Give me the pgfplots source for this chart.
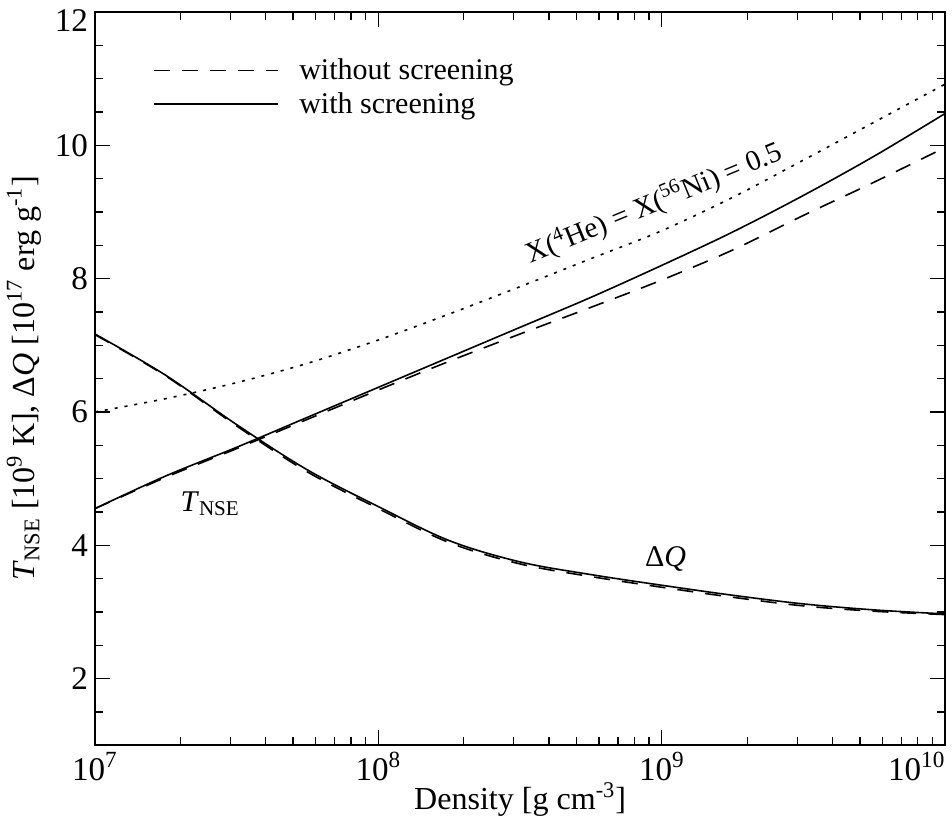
\documentclass[border=0pt]{standalone}
\usepackage{fontspec}
\setmainfont{Liberation Serif}
\usepackage{pgfplots}
\usepackage{pgfplotstable}
\pgfplotsset{compat=1.18}

% columns: density, T_NSE (screened / unscreened), Delta Q (screened / unscreened), X(He)=X(Ni)=0.5
\pgfplotstableread{
rho      T      Tns    Q      Qns    X
1e7      4.55   4.55   7.17   7.16   6.00
1.778e7  5.04   5.02   6.55   6.54   6.20
3.162e7  5.47   5.45   5.81   5.79   6.44
5.623e7  5.92   5.89   5.13   5.10   6.73
1e8      6.37   6.33   4.58   4.55   7.08
1.778e8  6.82   6.76   4.07   4.04   7.47
3.162e8  7.27   7.17   3.75   3.72   7.88
5.623e8  7.72   7.57   3.56   3.53   8.30
1e9      8.20   7.98   3.40   3.37   8.72
1.778e9  8.70   8.43   3.25   3.22   9.22
3.162e9  9.25   8.95   3.12   3.09   9.78
5.623e9  9.84   9.45   3.03   3.01   10.35
1e10     10.48  9.97   2.97   2.96   10.92
}\data

\begin{document}
\begin{tikzpicture}
\begin{axis}[
    scale only axis,
    width=424.5pt, height=366pt,
    xmode=log,
    xmin=1e7, xmax=1e10,
    ymin=1, ymax=12,
    xtick={1e7,1e8,1e9,1e10},
    xticklabels={10\textsuperscript{7},10\textsuperscript{8},10\textsuperscript{9},{\makebox[0pt][r]{10\textsuperscript{10}}}},
    minor xtick={2e7,3e7,4e7,5e7,6e7,7e7,8e7,9e7,2e8,3e8,4e8,5e8,6e8,7e8,8e8,9e8,2e9,3e9,4e9,5e9,6e9,7e9,8e9,9e9},
    ytick={2,4,...,10},
    extra y ticks={12},
    extra y tick style={yticklabel style={yshift=-4.5pt}},
    minor ytick={1.5,2,...,11.5},
    major tick length=7.5pt,
    minor tick length=4pt,
    tick style={black, line width=0.6pt},
    axis line style={line width=1pt},
    /pgf/number format/assume math mode=true,
    tick label style={font=\fontsize{16.5}{18}\selectfont},
    xlabel={Density [g cm\textsuperscript{-3}]},
    xlabel style={yshift=6pt},
    ylabel={\textit{T}\textsubscript{NSE} [10\textsuperscript{9} K], Δ\textit{Q} [10\textsuperscript{17} erg g\textsuperscript{-1}]},
    label style={font=\fontsize{16}{18}\selectfont},
    legend style={draw=none, fill=none, at={(0,1)}, anchor=north west,
        xshift=29pt, yshift=-21pt, inner sep=0pt, row sep=1pt, column sep=8pt,
        font=\fontsize{15}{17}\selectfont},
    legend image code/.code={\draw[#1] (0pt,0pt) -- (62pt,0pt);},
    legend cell align=left,
    every axis plot/.append style={smooth, tension=0.55},
]
\addplot[black, line width=0.8pt, dash pattern=on 8pt off 6pt] table[x=rho, y=Tns] {\data};
\addlegendentry{without screening}
\addplot[black, line width=0.8pt] table[x=rho, y=T] {\data};
\addlegendentry{with screening}
\addplot[black, line width=0.8pt, dash pattern=on 8pt off 6pt, forget plot] table[x=rho, y=Qns] {\data};
\addplot[black, line width=0.8pt, forget plot] table[x=rho, y=Q] {\data};
\addplot[black, line width=0.8pt, dash pattern=on 1.5pt off 3.5pt, forget plot] table[x=rho, y=X] {\data};

\node[rotate=22.5, font=\fontsize{14.5}{16}\selectfont] at (axis cs:9.38e8,9.13)
    {X(\textsuperscript{4}He) = X(\textsuperscript{56}Ni) = 0.5};
\node[font=\fontsize{15}{17}\selectfont] at (axis cs:2.55e7,4.62) {\textit{T}\textsubscript{NSE}};
\node[font=\fontsize{15}{17}\selectfont] at (axis cs:1.03e9,3.8) {Δ\textit{Q}};
\end{axis}
\path ([yshift=6pt]current axis.north);
\end{tikzpicture}
\end{document}
